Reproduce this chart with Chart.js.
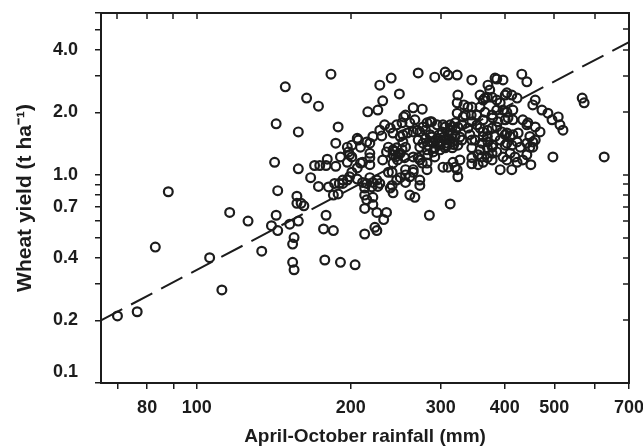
<!DOCTYPE html>
<html>
<head>
<meta charset="utf-8">
<script src="https://cdn.jsdelivr.net/npm/chart.js@4.4.0/dist/chart.umd.min.js"></script>
<style>
  html, body { margin: 0; padding: 0; background: #fff; }
  #wrap { width: 643px; height: 448px; }
</style>
</head>
<body>
<div id="wrap"><canvas id="yield-chart" width="643" height="448"></canvas></div>
<script>
// April-October rainfall (mm), one entry per site-year
const rainfall = [
  70, 76.5, 88, 83, 106, 112,
  142, 158, 167, 170, 174, 179, 180, 187, 173, 181, 186, 190, 193,
  144, 157, 157, 160, 162, 189, 179, 143, 140, 144, 152, 158,
  116, 126, 177, 185, 155, 154, 134, 154, 155, 178, 191, 204,
  213, 221, 225, 235, 232, 223, 225, 213, 215, 221,
  197, 206, 215, 221, 228, 197, 201, 209, 218, 218, 201, 206,
  231, 241, 250, 256, 265, 273, 239, 242, 261, 267, 285, 250, 265, 276, 242, 185,
  183, 149, 164, 173, 143, 158, 189, 187, 197, 206, 209, 218, 221, 230,
  233, 246, 252, 216, 226, 231, 228, 240, 249, 271, 256, 265, 276,
  199, 211, 242, 256, 273, 282, 237, 242, 253, 258, 265, 273, 282, 218,
  292, 310, 323, 345, 383, 397, 371, 374, 324, 323, 404, 413, 358, 366, 386, 392,
  333, 339, 345, 323, 335, 344, 358, 366, 386, 404, 415, 379, 388, 401, 415,
  254, 261, 267, 286, 239, 228, 207, 215, 201, 242, 250, 253, 246, 235, 247, 255, 270, 277,
  271, 280, 286, 290, 296, 302, 306, 310, 316, 320, 324, 330,
  283, 292, 306, 313, 273, 299, 321, 280, 296, 309, 288, 316,
  293, 300, 304, 312, 318, 285, 298, 308, 277, 327, 243, 248, 252, 245,
  295, 303, 313, 320, 330, 339, 345, 353, 358, 370, 378, 386, 395, 404, 415, 425,
  342, 350, 363, 371, 379, 392, 404, 413, 423, 345, 358, 370, 378, 386, 397, 410, 419,
  345, 355, 363, 392, 413, 282, 283, 292, 303, 310, 317, 323, 324, 327,
  271, 265, 256, 261, 246, 241, 256, 237, 225, 226, 218, 220, 211, 213, 199, 193, 213, 313, 198, 191,
  497, 626, 450, 423, 434, 442, 429, 442, 454, 404, 378, 370, 361, 345, 355, 378, 320, 282, 273, 290, 299, 316, 448,
  567, 572, 432, 442, 423, 459, 454, 473, 486, 495, 509, 513, 520, 442, 459, 469, 448, 459, 454,
  386, 363, 370, 378, 401, 397, 406, 306, 288, 306, 316, 324, 332, 353, 363, 378,
  401, 410, 363, 370, 383, 401, 345, 361, 434, 444
];

// Wheat yield (t/ha), same order as rainfall
const yieldT = [
  0.21, 0.22, 0.83, 0.45, 0.40, 0.28,
  1.15, 1.07, 0.97, 1.11, 1.11, 1.11, 1.19, 1.10, 0.88, 0.875, 0.91, 0.91, 0.91,
  0.84, 0.79, 0.73, 0.73, 0.71, 0.81, 0.64, 0.64, 0.57, 0.54, 0.58, 0.60,
  0.66, 0.60, 0.55, 0.54, 0.50, 0.465, 0.43, 0.38, 0.35, 0.39, 0.38, 0.37,
  0.69, 0.72, 0.66, 0.66, 0.61, 0.56, 0.54, 0.52, 0.76, 0.78,
  0.945, 0.955, 0.91, 0.92, 0.91, 1.15, 1.22, 1.14, 1.21, 1.12, 1.03, 1.08,
  1.18, 1.03, 0.97, 1.00, 1.03, 0.945, 0.865, 0.82, 0.80, 0.78, 0.64, 1.27, 1.22, 1.14, 1.25, 0.80,
  3.05, 2.65, 2.34, 2.14, 1.76, 1.61, 1.70, 1.42, 1.36, 1.50, 1.36, 1.42, 1.53, 1.54,
  1.74, 1.74, 1.78, 2.01, 2.05, 2.27, 2.70, 2.92, 2.45, 3.09, 1.94, 2.10, 2.07,
  1.25, 1.15, 1.14, 1.36, 1.18, 1.14, 1.36, 1.32, 1.56, 1.59, 1.61, 1.61, 1.78, 1.27,
  2.95, 3.02, 3.02, 2.86, 2.92, 2.86, 2.70, 2.56, 2.42, 2.22, 2.48, 2.42, 2.42, 2.34, 2.29, 2.22,
  2.17, 2.12, 2.12, 1.98, 1.94, 1.94, 2.12, 2.00, 2.05, 2.00, 2.05, 1.88, 1.80, 1.84, 1.84,
  1.90, 1.78, 1.84, 1.80, 1.68, 1.64, 1.47, 1.44, 1.39, 1.59, 1.53, 1.44, 1.35, 1.29, 1.18, 1.21, 1.64, 1.70,
  1.47, 1.50, 1.56, 1.44, 1.50, 1.61, 1.47, 1.56, 1.44, 1.53, 1.39, 1.47,
  1.39, 1.35, 1.35, 1.64, 1.36, 1.39, 1.64, 1.64, 1.42, 1.42, 1.52, 1.56,
  1.47, 1.45, 1.52, 1.48, 1.40, 1.45, 1.56, 1.38, 1.42, 1.52, 1.30, 1.26, 1.33, 1.22,
  1.74, 1.74, 1.74, 1.78, 1.74, 1.68, 1.80, 1.74, 1.68, 1.64, 1.68, 1.70, 1.61, 1.59, 1.56, 1.59,
  1.56, 1.47, 1.53, 1.44, 1.39, 1.47, 1.42, 1.39, 1.44, 1.35, 1.32, 1.35, 1.27, 1.29, 1.22, 1.27, 1.22,
  1.21, 1.12, 1.15, 1.06, 1.06, 1.32, 1.25, 1.22, 1.09, 1.09, 1.15, 1.06, 0.98, 1.18,
  1.21, 1.06, 1.06, 0.98, 0.945, 0.89, 0.92, 1.03, 0.945, 0.88, 0.97, 0.875, 0.92, 0.865, 0.98, 0.945, 0.80, 0.725, 1.29, 1.22,
  1.22, 1.22, 1.12, 1.15, 1.18, 1.25, 1.36, 1.42, 1.44, 1.18, 1.18, 1.21, 1.22, 1.13, 1.25, 1.36, 1.09, 1.06, 0.89, 1.29, 1.32, 1.35, 1.36,
  2.34, 2.22, 3.05, 2.80, 2.34, 2.29, 2.17, 2.05, 1.98, 1.84, 1.90, 1.74, 1.64, 1.74, 1.70, 1.61, 1.53, 1.47, 1.36,
  2.89, 2.29, 2.36, 2.36, 2.42, 2.05, 1.88, 3.12, 1.80, 1.70, 1.70, 1.70, 1.90, 1.94, 1.84, 1.94,
  1.56, 1.53, 1.61, 1.53, 1.53, 1.39, 1.47, 1.42, 1.84, 1.78
];

// fitted line end points
const trendRain = [65, 700];
const trendYield = [0.2, 4.35];

// axis ticks
const xTickValues = [70, 80, 90, 100, 200, 300, 400, 500, 600, 700];
const xTickLabels = [80, 100, 200, 300, 400, 500, 700];
const yTickValues = [0.1, 0.2, 0.3, 0.4, 0.5, 0.6, 0.7, 0.8, 0.9, 1, 2, 3, 4, 5, 6];
const yTickLabels = [0.1, 0.2, 0.4, 0.7, 1, 2, 4];

const ink = '#1c1c1c';
const family = "'Liberation Sans', Arial, sans-serif";
const tickFont = { family, size: 18, weight: 'bold' };

const n = Math.min(rainfall.length, yieldT.length);
const points = [];
for (let i = 0; i < n; i++) points.push({ x: rainfall[i], y: yieldT[i] });
const trend = trendRain.map((r, i) => ({ x: r, y: trendYield[i] }));

// axis boxes get a fixed size and no extra label padding, so the plot area stays put
function fixBox(scale, size) {
    if (scale.isHorizontal()) scale.height = size; else scale.width = size;
    scale.paddingTop = 0;
    scale.paddingBottom = 0;
    scale.paddingLeft = 0;
    scale.paddingRight = 0;
}

// top and right frame with inward ticks
const frameTicks = {
    id: 'frameTicks',
    afterDraw(chart) {
        const { ctx, chartArea: a, scales } = chart;
        ctx.save();
        ctx.strokeStyle = ink;
        ctx.lineWidth = 2;
        ctx.beginPath();
        ctx.moveTo(a.left - 1, a.top);
        ctx.lineTo(a.right, a.top);
        ctx.lineTo(a.right, a.bottom + 1);
        ctx.stroke();
        ctx.lineWidth = 1.5;
        ctx.beginPath();
        xTickValues.forEach(v => {
            const px = Math.round(scales.x.getPixelForValue(v));
            ctx.moveTo(px, a.top);
            ctx.lineTo(px, a.top + 6);
        });
        yTickValues.forEach(v => {
            const py = Math.round(scales.y.getPixelForValue(v));
            ctx.moveTo(a.right, py);
            ctx.lineTo(a.right - 6, py);
        });
        ctx.stroke();
        ctx.restore();
    }
};

const ctx = document.getElementById('yield-chart').getContext('2d');
new Chart(ctx, {
    type: 'scatter',
    data: {
        datasets: [
            {
                label: 'fit',
                data: trend,
                showLine: true,
                borderColor: ink,
                borderWidth: 2,
                borderDash: [24, 10],
                pointRadius: 0,
                fill: false
            },
            {
                label: 'site-years',
                data: points,
                pointStyle: 'circle',
                pointRadius: 4.4,
                pointBorderWidth: 2.2,
                pointBackgroundColor: 'rgba(0,0,0,0)',
                pointBorderColor: ink,
                borderColor: ink
            }
        ]
    },
    options: {
        responsive: false,
        animation: false,
        devicePixelRatio: 1,
        events: [],
        layout: { padding: { left: 0, top: 13, right: 14, bottom: 0 } },
        plugins: {
            legend: { display: false },
            tooltip: { enabled: false }
        },
        scales: {
            x: {
                type: 'logarithmic',
                position: 'bottom',
                min: 65,
                max: 700,
                afterBuildTicks: (scale) => { scale.ticks = xTickValues.map(v => ({ value: v })); },
                afterFit: (scale) => fixBox(scale, 65),
                grid: { display: true, drawOnChartArea: false, drawTicks: true, tickLength: 6, color: ink, lineWidth: 1.5 },
                border: { display: true, color: ink, width: 2 },
                ticks: {
                    autoSkip: false,
                    maxRotation: 0,
                    padding: 8,
                    color: ink,
                    font: tickFont,
                    callback: (value) => xTickLabels.includes(value) ? String(value) : ''
                },
                title: {
                    display: true,
                    text: 'April-October rainfall (mm)',
                    color: ink,
                    font: { family, size: 19, weight: 'bold' },
                    padding: { top: 0, bottom: 0 }
                }
            },
            y: {
                type: 'logarithmic',
                position: 'left',
                min: 0.1,
                max: 6,
                afterBuildTicks: (scale) => { scale.ticks = yTickValues.map(v => ({ value: v })); },
                afterFit: (scale) => fixBox(scale, 101),
                grid: { display: true, drawOnChartArea: false, drawTicks: true, tickLength: 6, color: ink, lineWidth: 1.5 },
                border: { display: true, color: ink, width: 2 },
                ticks: {
                    autoSkip: false,
                    padding: 17,
                    color: ink,
                    font: tickFont,
                    callback: (value) => {
                        if (!yTickLabels.includes(value)) return '';
                        // lowest label sits a bit above its tick, clear of the x axis
                        return value === 0.1 ? [value.toFixed(1), ''] : value.toFixed(1);
                    }
                },
                title: {
                    display: true,
                    text: 'Wheat yield (t ha\u207B\u00B9)',
                    color: ink,
                    font: { family, size: 21, weight: 'bold' },
                    padding: { top: 13, bottom: 0 }
                }
            }
        }
    },
    plugins: [frameTicks]
});
</script>
</body>
</html>
